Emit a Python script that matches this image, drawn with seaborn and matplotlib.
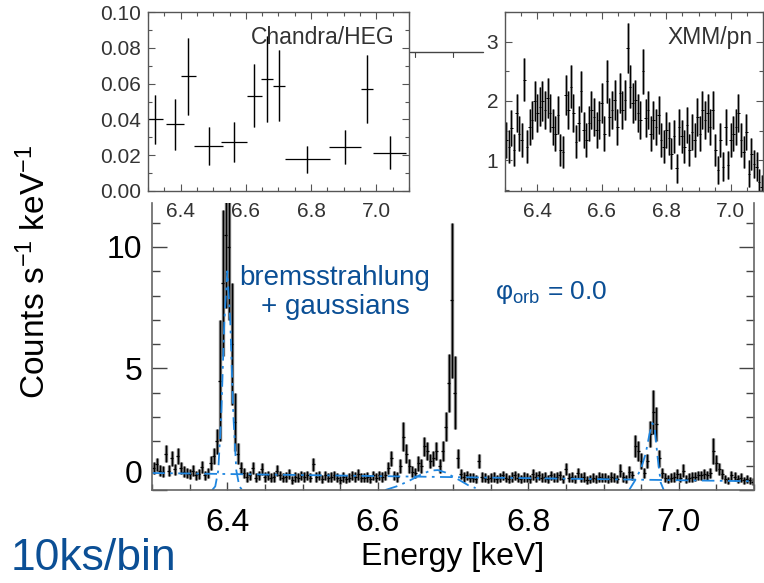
"""
Fe K band spectrum: main high resolution panel with Chandra/HEG and XMM/pn insets
"""

import numpy as np
import seaborn as sns
import matplotlib.pyplot as plt
from matplotlib.lines import Line2D
from matplotlib.ticker import MultipleLocator, FixedLocator

# main spectrum, 4 eV bins starting at 6.302 keV
MAIN_E0 = 6.302
MAIN_BIN = 0.004
main_counts = [
    0.9, 1.05, 0.8, 0.75, 1.5, 0.8, 1.3, 0.85, 1.4, 0.9,
    0.75, 0.7, 0.65, 0.8, 0.6, 0.65, 0.95, 0.6, 0.7, 1.1,
    1.4, 2.0, 4.5, 8.5, 10.5, 10.0, 6.0, 2.8, 1.5, 0.9,
    0.7, 0.55, 0.6, 0.9, 0.5, 0.6, 0.85, 0.55, 0.6, 0.5,
    0.55, 0.8, 0.6, 0.5, 0.55, 0.65, 0.4, 0.55, 0.5, 0.6,
    0.55, 0.6, 0.5, 1.05, 0.55, 0.6, 0.45, 0.6, 0.5, 0.55,
    0.6, 0.5, 0.4, 0.55, 0.45, 0.5, 0.6, 0.55, 0.65, 0.5,
    0.5, 0.55, 0.45, 0.6, 0.5, 0.6, 0.55, 0.6, 0.9, 1.3,
    0.6, 0.55, 1.0, 2.2, 1.5, 1.0, 0.75, 0.7, 1.1, 1.0,
    1.8, 1.6, 1.2, 1.3, 1.6, 1.0, 1.6, 2.6, 4.4, 7.8,
    4.0, 1.3, 0.65, 0.55, 0.6, 0.5, 0.5, 0.45, 1.2, 0.55,
    0.5, 0.45, 0.5, 0.55, 0.45, 0.5, 0.6, 0.5, 0.45, 0.55,
    0.6, 0.5, 0.45, 0.55, 0.5, 0.45, 0.65, 0.55, 0.6, 0.5,
    0.55, 0.45, 0.6, 0.5, 0.55, 0.6, 0.45, 0.85, 0.5, 0.55,
    0.45, 0.7, 0.5, 0.55, 0.4, 0.45, 0.5, 0.45, 0.55, 0.5,
    0.5, 0.45, 0.55, 0.5, 0.45, 0.8, 0.55, 0.45, 0.75, 0.6,
    1.8, 1.6, 1.2, 0.7, 1.2, 2.3, 3.2, 2.7, 1.3, 0.7,
    0.5, 0.45, 0.5, 0.55, 0.65, 0.5, 0.8, 0.45, 0.5, 0.55,
    0.55, 0.6, 0.6, 0.65, 0.6, 0.7, 1.6, 1.1, 0.85, 0.65,
    0.45, 0.4, 0.6, 0.55, 0.45, 0.5, 0.4, 0.45, 0.4, 0.35,
]
main_err = [
    0.25, 0.28, 0.22, 0.22, 0.35, 0.22, 0.3, 0.22, 0.32, 0.25,
    0.22, 0.2, 0.2, 0.22, 0.2, 0.2, 0.25, 0.2, 0.2, 0.28,
    0.32, 0.5, 2.5, 3.0, 3.0, 3.0, 2.5, 1.2, 0.45, 0.25,
    0.22, 0.2, 0.2, 0.25, 0.18, 0.2, 0.25, 0.2, 0.2, 0.18,
    0.2, 0.22, 0.2, 0.18, 0.2, 0.2, 0.16, 0.2, 0.18, 0.2,
    0.2, 0.2, 0.18, 0.28, 0.2, 0.2, 0.18, 0.2, 0.18, 0.2,
    0.2, 0.18, 0.16, 0.2, 0.18, 0.18, 0.2, 0.2, 0.22, 0.18,
    0.18, 0.2, 0.18, 0.2, 0.18, 0.2, 0.2, 0.2, 0.25, 0.32,
    0.2, 0.2, 0.28, 0.6, 0.4, 0.28, 0.22, 0.22, 0.3, 0.28,
    0.4, 0.38, 0.3, 0.32, 0.38, 0.28, 0.4, 0.6, 1.2, 3.2,
    1.5, 0.4, 0.2, 0.2, 0.2, 0.18, 0.18, 0.16, 0.3, 0.2,
    0.18, 0.16, 0.18, 0.2, 0.16, 0.18, 0.2, 0.18, 0.16, 0.2,
    0.2, 0.18, 0.16, 0.2, 0.18, 0.16, 0.22, 0.2, 0.2, 0.18,
    0.2, 0.16, 0.2, 0.18, 0.2, 0.2, 0.16, 0.25, 0.18, 0.2,
    0.16, 0.22, 0.18, 0.2, 0.16, 0.16, 0.18, 0.16, 0.2, 0.18,
    0.18, 0.16, 0.2, 0.18, 0.16, 0.25, 0.2, 0.16, 0.25, 0.2,
    0.45, 0.4, 0.32, 0.22, 0.3, 0.55, 0.9, 0.7, 0.35, 0.22,
    0.18, 0.16, 0.18, 0.2, 0.22, 0.18, 0.25, 0.16, 0.18, 0.2,
    0.18, 0.2, 0.2, 0.2, 0.2, 0.22, 0.55, 0.32, 0.25, 0.2,
    0.16, 0.15, 0.2, 0.18, 0.16, 0.18, 0.15, 0.16, 0.15, 0.14,
]

# model components
cont_energy = [6.30, 7.10]
cont_model = [0.70, 0.36]
g640_energy = [6.380, 6.384, 6.388, 6.392, 6.396, 6.400, 6.404, 6.408, 6.412, 6.416, 6.420]
g640_model = [0.0, 0.15, 0.8, 3.1, 6.9, 9.0, 6.9, 3.1, 0.8, 0.15, 0.0]
g668_energy = [6.610, 6.625, 6.640, 6.655, 6.670, 6.680, 6.690, 6.700, 6.710, 6.720, 6.730]
g668_model = [0.0, 0.15, 0.35, 0.6, 0.8, 0.82, 0.72, 0.55, 0.38, 0.2, 0.08]
g697_energy = [6.934, 6.942, 6.950, 6.956, 6.961, 6.965, 6.968, 6.972, 6.976, 6.980]
g697_model = [0.0, 0.4, 0.9, 1.5, 2.3, 2.75, 2.5, 1.3, 0.3, 0.0]

# Chandra/HEG inset
heg_energy = [6.321, 6.382, 6.423, 6.486, 6.564, 6.625, 6.665, 6.702, 6.788, 6.904, 6.972, 7.041]
heg_halfwidth = [0.025, 0.028, 0.023, 0.0435, 0.039, 0.023, 0.018, 0.019, 0.069, 0.049, 0.019, 0.05]
heg_counts = [0.0402, 0.0372, 0.0641, 0.0252, 0.0275, 0.0531, 0.0624, 0.0589, 0.0178, 0.0247, 0.0572, 0.0215]
heg_err = [0.0137, 0.0142, 0.0215, 0.0106, 0.0113, 0.0176, 0.024, 0.02, 0.0076, 0.0095, 0.019, 0.009]

# XMM/pn inset, 8 eV bins starting at 6.304 keV
XMM_E0 = 6.304
XMM_BIN = 0.008
xmm_counts = [
    1.34, 1.23, 1.54, 1.17, 1.79, 1.45, 1.34, 2.36, 1.23, 1.56,
    1.68, 2.0, 1.79, 1.9, 2.0, 1.85, 2.05, 1.79, 1.56, 1.45,
    1.76, 1.17, 1.14, 2.1, 1.85, 2.24, 1.79, 1.31, 1.62, 2.16,
    1.51, 1.34, 1.62, 1.85, 1.73, 1.51, 1.68, 1.96, 1.45, 2.33,
    1.73, 1.85, 2.02, 1.56, 2.13, 1.85, 2.02, 2.89, 2.24, 1.96,
    2.02, 1.79, 1.68, 2.5, 1.71, 1.85, 1.45, 1.68, 1.56, 1.76,
    1.34, 1.23, 1.51, 1.37, 1.11, 1.4, 0.86, 1.56, 1.4, 1.23,
    1.59, 1.17, 1.48, 1.34, 1.73, 1.45, 1.85, 1.68, 1.79, 1.56,
    1.85, 1.17, 0.83, 1.34, 0.89, 1.56, 0.92, 1.34, 1.45, 1.56,
    1.79, 1.34, 1.14, 1.48, 0.77, 1.11, 0.94, 0.89, 0.63, 0.55,
]
xmm_err = [
    0.3, 0.28, 0.3, 0.27, 0.32, 0.3, 0.28, 0.36, 0.28, 0.3,
    0.32, 0.34, 0.32, 0.33, 0.34, 0.32, 0.34, 0.32, 0.3, 0.3,
    0.32, 0.27, 0.27, 0.34, 0.32, 0.36, 0.32, 0.28, 0.3, 0.34,
    0.3, 0.28, 0.3, 0.32, 0.32, 0.3, 0.32, 0.34, 0.3, 0.36,
    0.32, 0.32, 0.34, 0.3, 0.34, 0.32, 0.34, 0.42, 0.36, 0.34,
    0.34, 0.32, 0.32, 0.38, 0.32, 0.32, 0.3, 0.32, 0.3, 0.32,
    0.28, 0.28, 0.3, 0.28, 0.26, 0.28, 0.24, 0.3, 0.28, 0.28,
    0.3, 0.27, 0.3, 0.28, 0.32, 0.3, 0.32, 0.32, 0.32, 0.3,
    0.32, 0.27, 0.24, 0.28, 0.24, 0.3, 0.24, 0.28, 0.3, 0.3,
    0.32, 0.28, 0.27, 0.3, 0.23, 0.27, 0.24, 0.24, 0.22, 0.2,
]

BLUE_TEXT = "#0b4f95"
BLUE_LINE = "#1f86e0"
INSET_TEXT = "#333333"
DASHDOT = (0, (7, 3, 1.5, 3))


def draw_errorbars(ax, x, y, xerr, yerr, lw_gray=2.0, lw_black=0.9):
    # gray bar underneath gives the filled look of crowded bins
    ax.errorbar(x, y, yerr=yerr, fmt="none", ecolor="#777777", elinewidth=lw_gray, capsize=0)
    ax.errorbar(x, y, xerr=xerr, yerr=yerr, fmt="none", ecolor="black", elinewidth=lw_black, capsize=0)


def style_inset(ax, ylim, ymajor, yminor):
    ax.set_xlim(6.3, 7.1)
    ax.set_ylim(*ylim)
    ax.xaxis.set_major_locator(FixedLocator([6.4, 6.6, 6.8, 7.0]))
    ax.xaxis.set_major_formatter(plt.FuncFormatter(lambda v, p: f"{v:.1f}"))
    ax.xaxis.set_minor_locator(MultipleLocator(0.05))
    ax.yaxis.set_major_locator(MultipleLocator(ymajor))
    ax.yaxis.set_minor_locator(MultipleLocator(yminor))
    ax.tick_params(which="both", direction="in", top=True, right=True,
                   labelsize=15, labelcolor=INSET_TEXT, color="#555555", width=0.8)
    ax.tick_params(which="major", length=5)
    ax.tick_params(which="minor", length=3)
    ax.tick_params(axis="x", pad=8)
    ax.tick_params(axis="y", pad=5)
    for sp in ax.spines.values():
        sp.set_visible(True)
        sp.set_color("#555555")
        sp.set_linewidth(1.0)
    ax.set_xlabel("")
    ax.set_ylabel("")
    ax.set_facecolor("white")


def make_plot():
    sns.set_theme(style="ticks")
    plt.rcParams["font.family"] = ["Liberation Sans", "DejaVu Sans"]
    plt.rcParams["mathtext.fontset"] = "custom"
    plt.rcParams["mathtext.rm"] = "Liberation Sans"
    plt.rcParams["mathtext.it"] = "Liberation Sans"
    plt.rcParams["axes.unicode_minus"] = True

    fig = plt.figure(figsize=(7.64, 5.83), dpi=100)

    main_energy = MAIN_E0 + MAIN_BIN * np.arange(len(main_counts))
    xmm_energy = XMM_E0 + XMM_BIN * np.arange(len(xmm_counts))

    # ---- main panel
    ax = fig.add_axes([0.199, 0.1595, 0.788, 0.492])
    draw_errorbars(ax, main_energy, main_counts, MAIN_BIN / 2, main_err, lw_gray=2.4, lw_black=0.9)
    for ex, mod in [(cont_energy, cont_model), (g640_energy, g640_model),
                    (g668_energy, g668_model), (g697_energy, g697_model)]:
        sns.lineplot(x=ex, y=mod, ax=ax, color=BLUE_LINE, lw=1.3, linestyle=DASHDOT, legend=False)

    ax.set_xlim(6.3, 7.1)
    ax.set_ylim(0, 11.8)
    ax.xaxis.set_major_locator(FixedLocator([6.4, 6.6, 6.8, 7.0]))
    ax.xaxis.set_major_formatter(plt.FuncFormatter(lambda v, p: f"{v:.1f}"))
    ax.xaxis.set_minor_locator(MultipleLocator(0.05))
    ax.yaxis.set_major_locator(FixedLocator([0, 5, 10]))
    ax.yaxis.set_minor_locator(MultipleLocator(1))
    ax.tick_params(which="both", direction="in", right=True, top=False,
                   labelsize=23, labelcolor="black", color="#444444", width=1.0)
    ax.tick_params(axis="y", which="major", length=11, pad=7)
    ax.tick_params(axis="y", which="minor", length=6)
    ax.tick_params(axis="x", which="major", length=6, pad=13)
    ax.tick_params(axis="x", which="minor", length=4)
    ax.spines["top"].set_visible(False)
    for side in ["left", "right", "bottom"]:
        ax.spines[side].set_visible(True)
        ax.spines[side].set_color("#666666")
        ax.spines[side].set_linewidth(1.2)
    ax.set_xlabel("")
    ax.set_ylabel("")
    fig.canvas.draw()
    ax.get_yticklabels()[0].set_va("bottom")

    # ---- Chandra/HEG inset
    ax_heg = fig.add_axes([0.1937, 0.6724, 0.3416, 0.307])
    draw_errorbars(ax_heg, heg_energy, heg_counts, heg_halfwidth, heg_err, lw_gray=1.0, lw_black=0.9)
    style_inset(ax_heg, (0.0, 0.1), 0.02, 0.01)
    ax_heg.yaxis.set_major_formatter(plt.FuncFormatter(lambda v, p: f"{v:.2f}"))
    ax_heg.text(0.946, 0.86, "Chandra/HEG", transform=ax_heg.transAxes, ha="right", va="center",
                fontsize=16.5, color=INSET_TEXT)
    fig.canvas.draw()
    heg_labels = ax_heg.get_yticklabels()
    heg_labels[0].set_va("bottom")
    heg_labels[-1].set_va("top")

    # ---- XMM/pn inset
    ax_xmm = fig.add_axes([0.661, 0.6724, 0.3377, 0.307])
    draw_errorbars(ax_xmm, xmm_energy, xmm_counts, XMM_BIN / 2, xmm_err, lw_gray=1.8, lw_black=0.7)
    style_inset(ax_xmm, (0.48, 3.5), 1, 0.5)
    ax_xmm.yaxis.set_major_formatter(plt.FuncFormatter(lambda v, p: f"{v:.0f}"))
    ax_xmm.text(0.96, 0.86, "XMM/pn", transform=ax_xmm.transAxes, ha="right", va="center",
                fontsize=16.5, color=INSET_TEXT)

    # stray connector between the two insets
    fig.add_artist(Line2D([410 / 764, 483 / 764], [1 - 52 / 583, 1 - 52 / 583],
                          color="#444444", lw=1.0, transform=fig.transFigure))
    for xt in [415, 453]:
        fig.add_artist(Line2D([xt / 764, xt / 764], [1 - 52 / 583, 1 - 57 / 583],
                              color="#444444", lw=0.8, transform=fig.transFigure))

    # ---- labels
    fig.text(35 / 764, 1 - 272 / 583, r"Counts s$^{-1}$ keV$^{-1}$", rotation=90,
             ha="center", va="center", fontsize=24, color="black")
    fig.text(453 / 764, 1 - 557 / 583, "Energy [keV]", ha="center", va="center",
             fontsize=23, color="black")
    fig.text(11 / 764, 1 - 558 / 583, "10ks/bin", ha="left", va="center",
             fontsize=32, color=BLUE_TEXT)
    fig.text(335 / 764, 1 - 278 / 583, "bremsstrahlung", ha="center", va="center",
             fontsize=20, color=BLUE_TEXT)
    fig.text(335 / 764, 1 - 307 / 583, "+ gaussians", ha="center", va="center",
             fontsize=20, color=BLUE_TEXT)
    fig.text(495 / 764, 1 - 293 / 583, r"φ$_{\mathrm{orb}}$ = 0.0", ha="left", va="center",
             fontsize=19, color=BLUE_TEXT)

    fig.savefig("out.png", dpi=100)


if __name__ == "__main__":
    make_plot()
